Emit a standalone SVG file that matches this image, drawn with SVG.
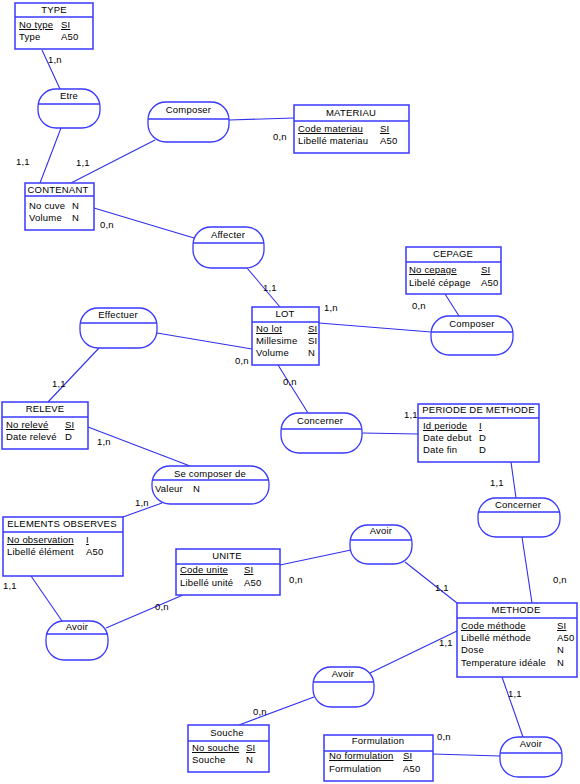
<svg xmlns="http://www.w3.org/2000/svg" width="580" height="784" viewBox="0 0 580 784">
<style>
text{font-family:"Liberation Sans",Arial,sans-serif;font-size:9.5px;fill:#000;letter-spacing:0.2px}
.t{text-anchor:middle}
.u{text-decoration:underline}
.box{fill:#fff;stroke:#3838ff;stroke-width:1.5}
.sep{stroke:#3838ff;stroke-width:1.3}
.rel{fill:#fff;stroke:#3838ff;stroke-width:1.3}
.cn line{stroke:#3030f0;stroke-width:1.1}
</style>
<rect width="580" height="784" fill="#fff"/>
<g id="connectors" class="cn">
<line x1="42" y1="50" x2="60" y2="89"/>
<line x1="61" y1="128" x2="40" y2="183"/>
<line x1="155" y1="140" x2="71" y2="183"/>
<line x1="229" y1="120" x2="294" y2="118"/>
<line x1="94" y1="208" x2="194" y2="238"/>
<line x1="247" y1="268" x2="280" y2="307"/>
<line x1="319" y1="323" x2="431" y2="332"/>
<line x1="445" y1="294" x2="459" y2="316"/>
<line x1="157" y1="333" x2="252" y2="349"/>
<line x1="99" y1="348" x2="48" y2="402"/>
<line x1="278" y1="365" x2="308" y2="413"/>
<line x1="362" y1="433" x2="418" y2="434"/>
<line x1="88" y1="427" x2="190" y2="466"/>
<line x1="123" y1="517" x2="162" y2="503"/>
<line x1="31" y1="576" x2="62" y2="621"/>
<line x1="106" y1="628" x2="183" y2="595"/>
<line x1="280" y1="565" x2="351" y2="550"/>
<line x1="405" y1="562" x2="457" y2="603"/>
<line x1="511" y1="462" x2="516" y2="498"/>
<line x1="522" y1="537" x2="532" y2="603"/>
<line x1="457" y1="631" x2="370" y2="673"/>
<line x1="502" y1="677" x2="523" y2="737"/>
<line x1="314" y1="697" x2="239" y2="725"/>
<line x1="433" y1="754" x2="500" y2="756"/>
<text x="48" y="63">1,n</text>
<text x="16" y="165">1,1</text>
<text x="76" y="166">1,1</text>
<text x="273" y="140">0,n</text>
<text x="100" y="228">0,n</text>
<text x="263" y="291">1,1</text>
<text x="324" y="311">1,n</text>
<text x="412" y="309">0,n</text>
<text x="235" y="364">0,n</text>
<text x="52" y="387">1,1</text>
<text x="283" y="385">0,n</text>
<text x="404" y="418">1,1</text>
<text x="97" y="445">1,n</text>
<text x="135" y="506">1,n</text>
<text x="3" y="589">1,1</text>
<text x="155" y="610">0,n</text>
<text x="289" y="583">0,n</text>
<text x="435" y="591">1,1</text>
<text x="490" y="486">1,1</text>
<text x="553" y="583">0,n</text>
<text x="439" y="646">1,1</text>
<text x="508" y="697">1,1</text>
<text x="253" y="715">0,n</text>
<text x="437" y="740">0,n</text>
</g>
<g id="TYPE">
<rect class="box" x="15" y="3" width="78" height="46"/>
<line class="sep" x1="15" y1="17" x2="93" y2="17"/>
<text class="t" x="54" y="13">TYPE</text>
<text class="u" x="19" y="28">No type</text><text class="u" x="61" y="28">SI</text>
<text x="19" y="40">Type</text><text x="61" y="40">A50</text>
</g>
<g id="CONTENANT">
<rect class="box" x="25" y="183" width="69" height="47"/>
<line class="sep" x1="25" y1="196" x2="94" y2="196"/>
<text class="t" x="58" y="193">CONTENANT</text>
<text x="29" y="209">No cuve</text><text x="72" y="209">N</text>
<text x="29" y="221">Volume</text><text x="72" y="221">N</text>
</g>
<g id="MATERIAU">
<rect class="box" x="294" y="105" width="115" height="48"/>
<line class="sep" x1="294" y1="121" x2="409" y2="121"/>
<text class="t" x="351" y="116">MATERIAU</text>
<text class="u" x="298" y="132">Code materiau</text><text class="u" x="380" y="132">SI</text>
<text x="298" y="144">Libellé materiau</text><text x="380" y="144">A50</text>
</g>
<g id="CEPAGE">
<rect class="box" x="406" y="247" width="95" height="47"/>
<line class="sep" x1="406" y1="262" x2="501" y2="262"/>
<text class="t" x="453" y="257">CEPAGE</text>
<text class="u" x="409" y="273">No cepage</text><text class="u" x="481" y="273">SI</text>
<text x="409" y="286">Libelé cépage</text><text x="481" y="286">A50</text>
</g>
<g id="LOT">
<rect class="box" x="252" y="307" width="67" height="58"/>
<line class="sep" x1="252" y1="322" x2="319" y2="322"/>
<text class="t" x="285" y="317">LOT</text>
<text class="u" x="256" y="332">No lot</text><text class="u" x="308" y="332">SI</text>
<text x="256" y="344">Millesime</text><text x="308" y="344">SI</text>
<text x="256" y="356">Volume</text><text x="308" y="356">N</text>
</g>
<g id="RELEVE">
<rect class="box" x="2" y="402" width="86" height="47"/>
<line class="sep" x1="2" y1="417" x2="88" y2="417"/>
<text class="t" x="45" y="412">RELEVE</text>
<text class="u" x="6" y="428">No relevé</text><text class="u" x="65" y="428">SI</text>
<text x="6" y="440">Date relevé</text><text x="65" y="440">D</text>
</g>
<g id="PERIODE_DE_METHODE">
<rect class="box" x="418" y="404" width="121" height="58"/>
<line class="sep" x1="418" y1="418" x2="539" y2="418"/>
<text class="t" x="478.5" y="413">PERIODE DE METHODE</text>
<text class="u" x="423" y="429">Id periode</text><text class="u" x="479" y="429">I</text>
<text x="423" y="441">Date debut</text><text x="479" y="441">D</text>
<text x="423" y="453">Date fin</text><text x="479" y="453">D</text>
</g>
<g id="ELEMENTS_OBSERVES">
<rect class="box" x="3" y="517" width="120" height="59"/>
<line class="sep" x1="3" y1="532" x2="123" y2="532"/>
<text class="t" x="62" y="527">ELEMENTS OBSERVES</text>
<text class="u" x="7" y="543">No observation</text><text class="u" x="86" y="543">I</text>
<text x="7" y="555">Libellé élément</text><text x="86" y="555">A50</text>
</g>
<g id="UNITE">
<rect class="box" x="176" y="549" width="104" height="46"/>
<line class="sep" x1="176" y1="564" x2="280" y2="564"/>
<text class="t" x="227" y="559">UNITE</text>
<text class="u" x="180" y="573">Code unite</text><text class="u" x="244" y="573">SI</text>
<text x="180" y="586">Libellé unité</text><text x="244" y="586">A50</text>
</g>
<g id="METHODE">
<rect class="box" x="457" y="603" width="120" height="74"/>
<line class="sep" x1="457" y1="618" x2="577" y2="618"/>
<text class="t" x="516" y="613">METHODE</text>
<text class="u" x="461" y="629">Code méthode</text><text class="u" x="557" y="629">SI</text>
<text x="461" y="641">Libellé méthode</text><text x="557" y="641">A50</text>
<text x="461" y="653">Dose</text><text x="557" y="653">N</text>
<text x="461" y="666">Temperature idéale</text><text x="557" y="666">N</text>
</g>
<g id="Souche">
<rect class="box" x="188" y="725" width="81" height="47"/>
<line class="sep" x1="188" y1="741" x2="269" y2="741"/>
<text class="t" x="227" y="736">Souche</text>
<text class="u" x="192" y="751">No souche</text><text class="u" x="246" y="751">SI</text>
<text x="192" y="763">Souche</text><text x="246" y="763">N</text>
</g>
<g id="Formulation">
<rect class="box" x="324" y="735" width="109" height="46"/>
<line class="sep" x1="324" y1="751" x2="433" y2="751"/>
<text class="t" x="378" y="744">Formulation</text>
<text class="u" x="329" y="759">No formulation</text><text class="u" x="403" y="759">SI</text>
<text x="329" y="772">Formulation</text><text x="403" y="772">A50</text>
</g>
<g id="Etre">
<rect class="rel" x="38" y="89" width="62" height="39" rx="18" ry="18"/>
<line class="sep" x1="38" y1="104" x2="100" y2="104"/>
<text class="t" x="69" y="99">Etre</text>
</g>
<g id="Composer_materiau">
<rect class="rel" x="148" y="102" width="81" height="40" rx="18" ry="18"/>
<line class="sep" x1="148" y1="119" x2="229" y2="119"/>
<text class="t" x="188.5" y="113">Composer</text>
</g>
<g id="Affecter">
<rect class="rel" x="193" y="227" width="71" height="41" rx="18" ry="18"/>
<line class="sep" x1="193" y1="243" x2="264" y2="243"/>
<text class="t" x="228" y="238">Affecter</text>
</g>
<g id="Effectuer">
<rect class="rel" x="80" y="308" width="77" height="40" rx="18" ry="18"/>
<line class="sep" x1="80" y1="323" x2="157" y2="323"/>
<text class="t" x="118" y="318">Effectuer</text>
</g>
<g id="Composer_cepage">
<rect class="rel" x="431" y="316" width="82" height="39" rx="18" ry="18"/>
<line class="sep" x1="431" y1="332" x2="513" y2="332"/>
<text class="t" x="472" y="327">Composer</text>
</g>
<g id="Concerner_periode">
<rect class="rel" x="281" y="413" width="81" height="40" rx="18" ry="18"/>
<line class="sep" x1="281" y1="429" x2="362" y2="429"/>
<text class="t" x="320" y="424">Concerner</text>
</g>
<g id="Concerner_methode">
<rect class="rel" x="478" y="498" width="82" height="39" rx="18" ry="18"/>
<line class="sep" x1="478" y1="512" x2="560" y2="512"/>
<text class="t" x="518" y="508">Concerner</text>
</g>
<g id="Se_composer_de">
<rect class="rel" x="152" y="466" width="117" height="38" rx="18" ry="18"/>
<line class="sep" x1="152" y1="480" x2="269" y2="480"/>
<text class="t" x="210" y="477">Se composer de</text>
<text x="155" y="492">Valeur</text><text x="193" y="492">N</text>
</g>
<g id="Avoir_element">
<rect class="rel" x="46" y="621" width="62" height="39" rx="18" ry="18"/>
<line class="sep" x1="46" y1="634" x2="108" y2="634"/>
<text class="t" x="77" y="630">Avoir</text>
</g>
<g id="Avoir_unite">
<rect class="rel" x="350" y="525" width="62" height="39" rx="18" ry="18"/>
<line class="sep" x1="350" y1="540" x2="412" y2="540"/>
<text class="t" x="381" y="534">Avoir</text>
</g>
<g id="Avoir_souche">
<rect class="rel" x="313" y="667" width="61" height="40" rx="18" ry="18"/>
<line class="sep" x1="313" y1="682" x2="374" y2="682"/>
<text class="t" x="343" y="677">Avoir</text>
</g>
<g id="Avoir_formulation">
<rect class="rel" x="500" y="737" width="62" height="40" rx="18" ry="18"/>
<line class="sep" x1="500" y1="753" x2="562" y2="753"/>
<text class="t" x="531" y="747">Avoir</text>
</g>
</svg>
